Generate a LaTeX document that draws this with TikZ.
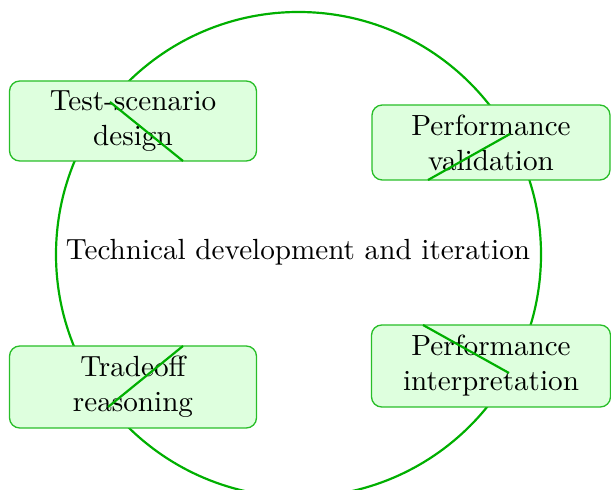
\documentclass[tikz,border=0pt]{standalone}
\usetikzlibrary{shapes.geometric}
\definecolor{lineg}{RGB}{0,175,0}
\definecolor{boxline}{RGB}{40,190,40}
\definecolor{boxfill}{RGB}{222,255,222}
\tikzset{
  stagebox/.style={draw=boxline, fill=boxfill, line width=0.45pt, rounded corners=3.5pt,
    align=center, inner sep=0pt, font=\normalsize},
  cyclering/.style={circle, draw=lineg, line width=0.75pt, inner sep=0pt, minimum size=485*0.343pt},
  seg/.style={draw=lineg, line width=0.75pt}
}
\begin{document}
\begin{tikzpicture}[x=0.343pt, y=-0.343pt]
\useasboundingbox (0,0) rectangle (611,490);
\node[cyclering] (cyc) at (298.5,254.5) {};
\node (ctext) at (298,252) {Technical development and iteration};
\node[stagebox, minimum width=247*0.343pt, minimum height=80*0.343pt] (b1) at (133,121) {Test-scenario\\design};
\node[stagebox, minimum width=238*0.343pt, minimum height=75*0.343pt] (b2) at (491,142.5) {Performance\\validation};
\node[stagebox, minimum width=247*0.343pt, minimum height=82*0.343pt] (b3) at (133,387) {Tradeoff\\reasoning};
\node[stagebox, minimum width=239*0.343pt, minimum height=82*0.343pt] (b4) at (491,366) {Performance\\interpretation};
\coordinate (s1a) at (110,102); \coordinate (s1b) at (183,161);
\coordinate (s2a) at (510,134); \coordinate (s2b) at (428,180);
\coordinate (s3a) at (183,346); \coordinate (s3b) at (108,407);
\coordinate (s4a) at (423,325); \coordinate (s4b) at (509,373);
\draw[seg] (s1a) -- (s1b);
\draw[seg] (s2a) -- (s2b);
\draw[seg] (s3a) -- (s3b);
\draw[seg] (s4a) -- (s4b);
\end{tikzpicture}
\end{document}
